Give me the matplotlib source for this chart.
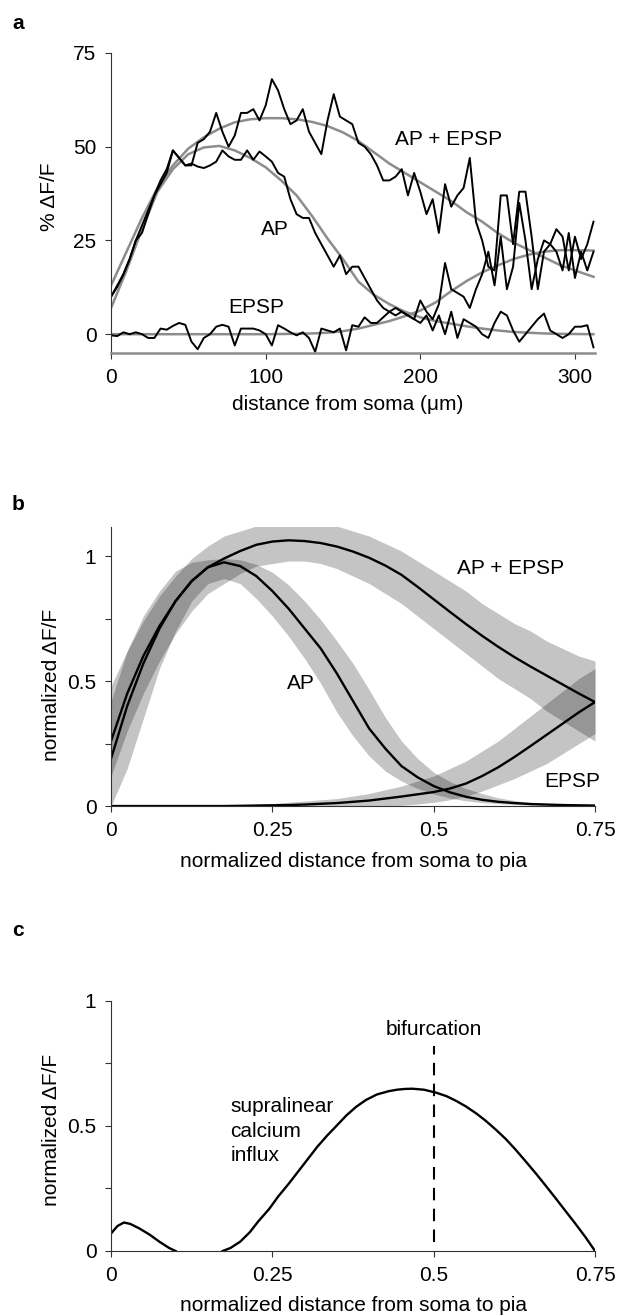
import numpy as np
import matplotlib
matplotlib.use("Agg")
import matplotlib.pyplot as plt

plt.rcParams['font.family'] = ['Liberation Sans', 'DejaVu Sans']
plt.rcParams['font.size'] = 15

# ---- panel a: raw traces (distance step 4 um) ----
dist = np.arange(0, 313, 4)
ap_epsp_raw = [10, 13, 16, 20, 25, 29, 33, 37, 41, 44, 49, 47, 45, 45, 51, 52, 54, 59, 54, 50,
               53, 59, 59, 60, 57, 61, 68, 65, 60, 56, 57, 60, 54, 51, 48, 57, 64, 58, 57, 56,
               51, 50, 48, 45, 41, 41, 42, 44, 37, 43, 38, 32, 36, 27, 40, 34, 37, 39, 47, 30,
               25, 18, 17, 37, 37, 24, 38, 38, 26, 12, 22, 24, 28, 26, 17, 26, 20, 24, 30]
ap_raw = [10, 12.6, 16, 20, 25, 27, 32, 37, 40, 43, 49, 47, 45, 45.5, 44.7, 44.3, 45, 46, 49, 47.4,
          46.5, 46.5, 49, 46.5, 48.7, 47.4, 46, 43, 42, 36, 32, 31, 31, 27, 24, 21, 18, 21, 16, 18,
          18, 15, 12, 9, 7, 6, 5, 6, 5, 4, 3, 5, 1, 5, 0, 6, -1, 4, 3, 2,
          0, -1, 3, 6, 5, 1, -2, 0, 2, 4, 5.5, 1, 0, -1, 0, 2, 2, 2.4, -3.5]
epsp_raw = [-0.3, -0.5, 0.5, 0, 0.5, 0, -1, -1, 1.5, 1.2, 2.2, 3, 2.5, -2, -4, -1, 0, 2, 2.5, 2,
            -3, 1.5, 1.5, 1.5, 1, 0, -3, 2.4, 1.5, 0.5, -0.3, 0.5, -1, -4.7, 1.5, 1, 0.5, 1.5, -4.3, 2.4,
            2, 4.5, 3, 3, 4.5, 6, 7, 6, 5, 4, 9, 6, 4, 8, 19, 12, 11, 10, 7, 12,
            16, 22, 13, 26, 12, 18, 35, 25, 12, 20, 25, 24, 22, 17, 27, 15, 22, 17, 22]

# fitted curves (read every 10 um)
fit_x = [0, 10, 20, 30, 40, 50, 60, 70, 80, 90, 100, 110, 120, 130, 140, 150, 160, 170, 180, 190,
         200, 210, 220, 230, 240, 250, 260, 270, 280, 290, 300, 312]
ap_fit = [7, 17, 28, 38, 44, 48, 49.8, 50.2, 49, 47, 44.5, 41, 37, 31.5, 25.5, 20, 14, 10.5, 8, 6,
          4.5, 3.5, 2.8, 2.1, 1.5, 1, 0.6, 0.4, 0.2, 0.1, 0.05, 0]
ap_epsp_fit = [13, 22, 31, 39, 45, 49.5, 52.5, 54.8, 56.5, 57.3, 57.6, 57.6, 57.3, 56.6, 55.5, 53.8, 51.5, 48.5, 45.5, 43,
               40.5, 38, 35.5, 32.5, 30, 27, 24.5, 22.5, 20.5, 18.5, 17, 15.3]
epsp_fit = [0, 0, 0, 0, 0, 0, 0, 0, 0, 0, 0, 0.05, 0.1, 0.2, 0.4, 0.8, 1.5, 2.5, 3.5, 4.8,
            6.3, 8.5, 11.5, 14.2, 16.5, 18.3, 20, 21.2, 22, 22.4, 22.4, 22.3]

# ---- panel b: normalized curves with confidence bands ----
nx = [0, 0.025, 0.05, 0.075, 0.1, 0.125, 0.15, 0.175, 0.2, 0.225, 0.25, 0.275, 0.3, 0.325, 0.35, 0.375,
      0.4, 0.425, 0.45, 0.475, 0.5, 0.525, 0.55, 0.575, 0.6, 0.625, 0.65, 0.675, 0.7, 0.725, 0.75]
ap_norm = [0.19, 0.40, 0.57, 0.71, 0.82, 0.90, 0.955, 0.975, 0.96, 0.92, 0.86, 0.79, 0.71, 0.63, 0.53, 0.42,
           0.31, 0.23, 0.16, 0.115, 0.08, 0.055, 0.037, 0.025, 0.017, 0.012, 0.008, 0.006, 0.004, 0.003, 0.002]
ap_lo = [0.0, 0.15, 0.35, 0.55, 0.70, 0.82, 0.89, 0.91, 0.89, 0.83, 0.76, 0.68, 0.59, 0.49, 0.375, 0.28,
         0.20, 0.14, 0.10, 0.07, 0.048, 0.032, 0.021, 0.014, 0.01, 0.006, 0.004, 0.002, 0.001, 0, 0]
ap_hi = [0.42, 0.62, 0.76, 0.86, 0.94, 0.975, 0.985, 0.99, 0.985, 0.967, 0.935, 0.885, 0.82, 0.745, 0.66, 0.57,
         0.465, 0.355, 0.26, 0.19, 0.135, 0.098, 0.07, 0.05, 0.033, 0.022, 0.015, 0.01, 0.007, 0.005, 0.003]
sum_norm = [0.26, 0.45, 0.60, 0.72, 0.82, 0.90, 0.955, 0.99, 1.02, 1.045, 1.058, 1.063, 1.06, 1.052, 1.038, 1.018,
            0.993, 0.962, 0.925, 0.877, 0.827, 0.777, 0.728, 0.681, 0.637, 0.596, 0.558, 0.522, 0.486, 0.45, 0.416]
sum_lo = [0.12, 0.30, 0.45, 0.58, 0.69, 0.78, 0.85, 0.89, 0.93, 0.96, 0.97, 0.98, 0.98, 0.97, 0.95, 0.92,
          0.89, 0.85, 0.81, 0.76, 0.71, 0.66, 0.61, 0.56, 0.51, 0.47, 0.43, 0.38, 0.34, 0.30, 0.26]
sum_hi = [0.48, 0.62, 0.74, 0.84, 0.92, 0.99, 1.04, 1.08, 1.10, 1.12, 1.13, 1.135, 1.135, 1.13, 1.12, 1.10,
          1.08, 1.05, 1.02, 0.98, 0.94, 0.90, 0.86, 0.81, 0.77, 0.73, 0.70, 0.66, 0.63, 0.60, 0.58]
epsp_norm = [0, 0, 0, 0, 0, 0, 0, 0, 0.001, 0.002, 0.003, 0.004, 0.006, 0.009, 0.012, 0.017,
             0.022, 0.03, 0.038, 0.047, 0.056, 0.07, 0.09, 0.12, 0.155, 0.196, 0.24, 0.285, 0.33, 0.375, 0.416]
epsp_lo = [0] * 18 + [0.003, 0.008, 0.015, 0.025, 0.04, 0.06, 0.085, 0.11, 0.14, 0.17, 0.21, 0.25, 0.29]
epsp_hi = [0, 0, 0, 0, 0, 0, 0, 0, 0.005, 0.007, 0.01, 0.015, 0.02, 0.025, 0.03, 0.04,
           0.05, 0.065, 0.08, 0.1, 0.12, 0.15, 0.18, 0.22, 0.26, 0.31, 0.36, 0.41, 0.46, 0.51, 0.55]

# ---- panel c: supralinear component ----
c1_x = [0, 0.01, 0.02, 0.03, 0.044, 0.06, 0.075, 0.09, 0.1]
c1_y = [0.07, 0.1, 0.114, 0.108, 0.09, 0.065, 0.037, 0.012, 0]
c2_x = [0.173, 0.185, 0.2, 0.215, 0.228, 0.245, 0.259, 0.275, 0.29, 0.305, 0.32, 0.335, 0.351, 0.365, 0.38,
        0.395, 0.412, 0.43, 0.443, 0.455, 0.467, 0.485, 0.504, 0.52, 0.535, 0.55, 0.566, 0.58, 0.596,
        0.612, 0.627, 0.642, 0.658, 0.673, 0.688, 0.703, 0.719, 0.735, 0.75]
c2_y = [0, 0.012, 0.037, 0.075, 0.118, 0.168, 0.218, 0.268, 0.318, 0.368, 0.418, 0.462, 0.505, 0.543, 0.577,
        0.604, 0.626, 0.639, 0.645, 0.648, 0.649, 0.645, 0.633, 0.619, 0.6, 0.578, 0.55, 0.522, 0.486,
        0.447, 0.405, 0.36, 0.311, 0.263, 0.214, 0.164, 0.111, 0.056, 0]
c_labels = ['supralinear', 'calcium', 'influx']
c_label_y = [0.579, 0.479, 0.381]

fig = plt.figure(figsize=(6.17, 13.16), dpi=100)
black_lw = 1.7
axis_col = '0.2'

# panel a
ax = fig.add_axes([0.180, 0.7318, 0.7844, 0.2280])
ax.plot(fit_x, ap_fit, color='0.55', lw=1.8)
ax.plot(fit_x, ap_epsp_fit, color='0.55', lw=1.8)
ax.plot(fit_x, epsp_fit, color='0.55', lw=1.8)
ax.plot(dist, ap_epsp_raw, color='k', lw=1.4)
ax.plot(dist, ap_raw, color='k', lw=1.4)
ax.plot(dist, epsp_raw, color='k', lw=1.4)
ax.set_xlim(0, 313)
ax.set_ylim(-5, 75)
ax.set_xticks([0, 100, 200, 300])
ax.set_yticks([0, 25, 50, 75])
ax.set_xlabel('distance from soma (\u03bcm)', va='center')
ax.xaxis.set_label_coords(0.489, -0.173)
ax.set_ylabel('% \u0394F/F', va='center')
ax.yaxis.set_label_coords(-0.128, 0.52)
ax.text(218, 52, 'AP + EPSP', ha='center', va='center')
ax.text(106, 28, 'AP', ha='center', va='center')
ax.text(94, 7, 'EPSP', ha='center', va='center')
ax.spines['left'].set_color(axis_col)
ax.spines['bottom'].set_color('0.55')
ax.spines['bottom'].set_linewidth(1.8)
fig.text(0.029, 0.9825, 'a', fontsize=15, fontweight='bold', ha='center', va='center')

# panel b
bx = fig.add_axes([0.180, 0.3875, 0.7844, 0.2120])
bx.fill_between(nx, ap_lo, ap_hi, color='k', alpha=0.23, lw=0)
bx.fill_between(nx, sum_lo, sum_hi, color='k', alpha=0.23, lw=0)
bx.fill_between(nx, epsp_lo, epsp_hi, color='k', alpha=0.23, lw=0)
bx.plot(nx, ap_norm, color='k', lw=black_lw)
bx.plot(nx, sum_norm, color='k', lw=black_lw)
bx.plot(nx, epsp_norm, color='k', lw=black_lw)
bx.set_xlim(0, 0.75)
bx.set_ylim(0, 1.116)
bx.set_xticks([0, 0.25, 0.5, 0.75])
bx.set_xticklabels(['0', '0.25', '0.5', '0.75'])
bx.set_yticks([0, 0.25, 0.5, 0.75, 1])
bx.set_yticklabels(['0', '', '0.5', '', '1'])
bx.set_xlabel('normalized distance from soma to pia', va='center')
bx.xaxis.set_label_coords(0.5, -0.2)
bx.set_ylabel('normalized \u0394F/F', va='center')
bx.yaxis.set_label_coords(-0.124, 0.434)
bx.text(0.619, 0.952, 'AP + EPSP', ha='center', va='center')
bx.text(0.294, 0.492, 'AP', ha='center', va='center')
bx.text(0.714, 0.097, 'EPSP', ha='center', va='center')
fig.text(0.029, 0.6163, 'b', fontsize=15, fontweight='bold', ha='center', va='center')

# panel c
cx = fig.add_axes([0.180, 0.0494, 0.7844, 0.1900])
cx.plot(c1_x, c1_y, color='k', lw=black_lw)
cx.plot(c2_x, c2_y, color='k', lw=black_lw)
cx.plot([0.5, 0.5], [0.037, 0.82], color='k', lw=1.5, dashes=(6, 4))
cx.set_xlim(0, 0.75)
cx.set_ylim(0, 1)
cx.set_xticks([0, 0.25, 0.5, 0.75])
cx.set_xticklabels(['0', '0.25', '0.5', '0.75'])
cx.set_yticks([0, 0.25, 0.5, 0.75, 1])
cx.set_yticklabels(['0', '', '0.5', '', '1'])
cx.set_xlabel('normalized distance from soma to pia', va='center')
cx.xaxis.set_label_coords(0.5, -0.22)
cx.set_ylabel('normalized \u0394F/F', va='center')
cx.yaxis.set_label_coords(-0.124, 0.484)
cx.text(0.5, 0.884, 'bifurcation', ha='center', va='center')
for lab, ly in zip(c_labels, c_label_y):
    cx.text(0.185, ly, lab, ha='left', va='center')
fig.text(0.029, 0.2933, 'c', fontsize=15, fontweight='bold', ha='center', va='center')

for a in (bx, cx):
    a.spines['left'].set_color(axis_col)
    a.spines['bottom'].set_color(axis_col)
for a in (ax, bx, cx):
    a.spines['top'].set_visible(False)
    a.spines['right'].set_visible(False)
    a.tick_params(direction='out', length=4.5, width=0.8, pad=6, color=axis_col)

fig.savefig('out.png', dpi=100)
